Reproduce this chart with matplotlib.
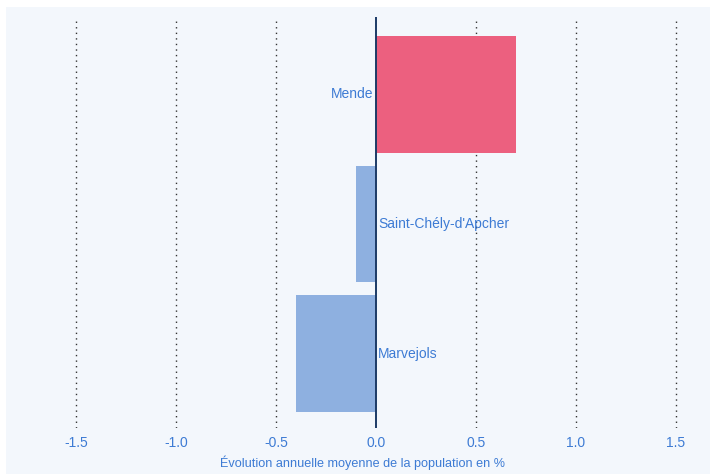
import matplotlib.pyplot as plt
from matplotlib.patches import Rectangle

plt.rcParams["font.family"] = ["Liberation Sans", "DejaVu Sans"]

communes = ["Mende", "Saint-Chély-d'Apcher", "Marvejols"]
evolution = [0.70, -0.10, -0.40]
xticks = [-1.5, -1.0, -0.5, 0.0, 0.5, 1.0, 1.5]

text_color = "#3d7bd4"
panel_color = "#f3f7fc"

fig = plt.figure(figsize=(7.1, 4.74), dpi=100)
fig.patches.append(Rectangle((6 / 710, 0), 1, 467 / 474, transform=fig.transFigure,
                             facecolor=panel_color, edgecolor="none", zorder=-1))

ax = fig.add_axes([6 / 710, 46 / 474, 704 / 710, 411 / 474])
ax.set_zorder(1)
ax.set_facecolor(panel_color)

ypos = list(range(len(communes)))
colors = ["#ec607f" if v > 0 else "#8eb0e0" for v in evolution]
ax.barh(ypos, evolution, height=0.9, color=colors, zorder=2)

for y, v, name in zip(ypos, evolution, communes):
  if v > 0:
    ax.text(-0.015, y, name, ha="right", va="center", color=text_color, fontsize=10, zorder=3)
  else:
    ax.text(0.01, y, name, ha="left", va="center", color=text_color, fontsize=10, zorder=3)

for t in xticks:
  if t == 0:
    ax.axvline(0, color="#1c3a66", linewidth=1.4, zorder=4)
  else:
    ax.axvline(t, color="#333333", linewidth=1.0, linestyle=(0, (1, 3)), zorder=1)

ax.set_xlim(-1.85, 1.67)
ax.set_ylim(2.575, -0.598)
ax.set_yticks([])
ax.set_xticks(xticks)
ax.set_xticklabels([f"{t:.1f}" for t in xticks])
ax.tick_params(axis="x", length=0, pad=6, labelsize=10, labelcolor=text_color)
ax.set_xlabel("Évolution annuelle moyenne de la population en %", color=text_color,
              fontsize=9.1)
ax.xaxis.set_label_coords(0.5065, -0.067)
for s in ax.spines.values():
  s.set_visible(False)

fig.savefig("out.png", dpi=100, facecolor="white")
